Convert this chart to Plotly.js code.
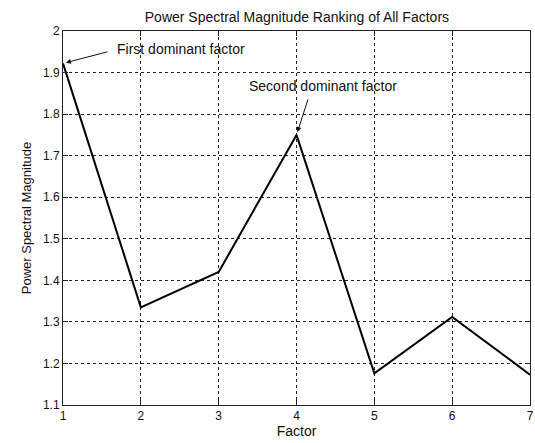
<!DOCTYPE html>
<html>
<head>
<meta charset="utf-8">
<script src="https://cdn.plot.ly/plotly-3.0.1.min.js"></script>
<style>html,body{margin:0;padding:0;background:#fff;}#chart{width:535px;height:443px;}</style>
</head>
<body>
<div id="chart"></div>
<script>
const factors = [1, 2, 3, 4, 5, 6, 7];
const magnitude = [1.922, 1.335, 1.42, 1.75, 1.176, 1.312, 1.173];
const xTicks = [1, 2, 3, 4, 5, 6, 7];
const yTicks = [1.1, 1.2, 1.3, 1.4, 1.5, 1.6, 1.7, 1.8, 1.9, 2];
const yTickLabels = ['1.1', '1.2', '1.3', '1.4', '1.5', '1.6', '1.7', '1.8', '1.9', '2'];

const fam = 'Liberation Sans, Arial, sans-serif';
const font = {family: fam, size: 12, color: '#111'};
const bigFont = {family: fam, size: 14, color: '#111'};

const axisCommon = {
  showline: true, mirror: 'ticks', linecolor: '#222', linewidth: 1,
  ticks: 'inside', ticklen: 5, tickcolor: '#222',
  showgrid: true, gridcolor: '#222', griddash: '3px,3px', gridwidth: 1,
  zeroline: false, tickfont: font
};

const trace = {
  x: factors, y: magnitude, type: 'scatter', mode: 'lines',
  line: {color: '#000', width: 2}, hoverinfo: 'skip'
};

const layout = {
  width: 535, height: 443,
  margin: {l: 63, r: 5, t: 31, b: 38},
  paper_bgcolor: '#fff', plot_bgcolor: '#fff',
  showlegend: false,
  font: font,
  title: {text: 'Power Spectral Magnitude Ranking of All Factors', font: bigFont, x: 0.555, xanchor: 'center', y: 0.962, yanchor: 'middle'},
  xaxis: Object.assign({}, axisCommon, {
    range: [1, 7], tickvals: xTicks, ticktext: xTicks.map(String), ticklabeloverflow: 'allow',
    title: {text: 'Factor', font: bigFont, standoff: 3}
  }),
  yaxis: Object.assign({}, axisCommon, {
    range: [1.1, 2], tickvals: yTicks, ticktext: yTickLabels,
    title: {text: 'Power Spectral Magnitude', font: {family: fam, size: 13, color: '#111'}, standoff: 8}
  }),
  annotations: [
    {x: factors[0], y: magnitude[0], xref: 'x', yref: 'y', text: '', showarrow: true,
     ax: 46, ay: -12, arrowhead: 2, arrowsize: 1, arrowwidth: 1, arrowcolor: '#111', standoff: 3},
    {x: factors[3], y: magnitude[3], xref: 'x', yref: 'y', text: '', showarrow: true,
     ax: 12, ay: -37, arrowhead: 2, arrowsize: 1, arrowwidth: 1, arrowcolor: '#111', standoff: 3},
    {x: 1.67, y: 1.957, xref: 'x', yref: 'y', text: 'First dominant factor', showarrow: false,
     xanchor: 'left', yanchor: 'middle', font: bigFont},
    {x: 3.36, y: 1.868, xref: 'x', yref: 'y', text: 'Second dominant factor', showarrow: false,
     xanchor: 'left', yanchor: 'middle', font: bigFont}
  ]
};

Plotly.newPlot('chart', [trace], layout, {displayModeBar: false, staticPlot: true});
</script>
</body>
</html>
